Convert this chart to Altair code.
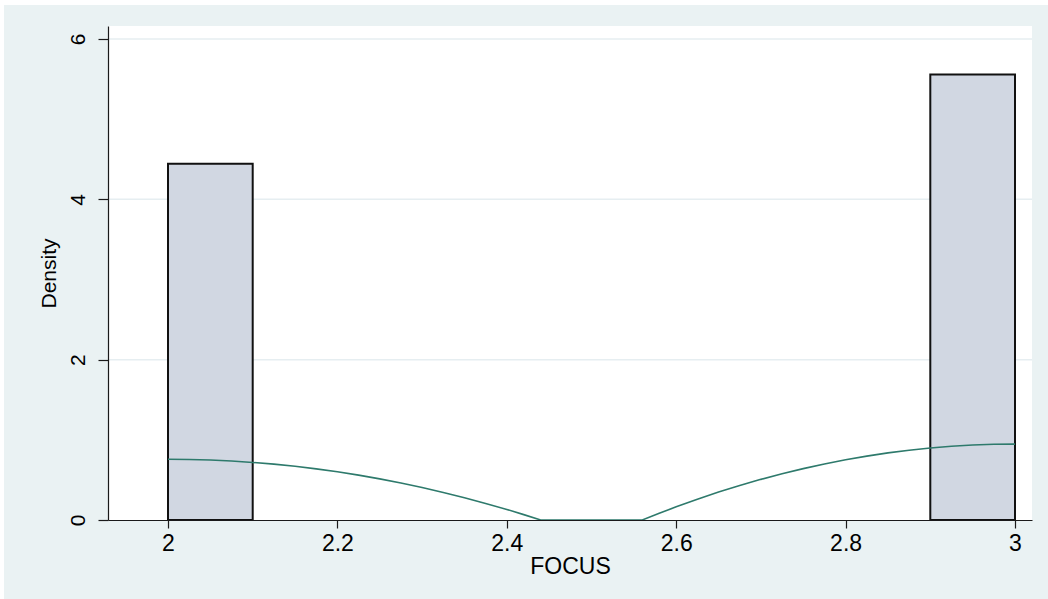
import altair as alt
import pandas as pd

# Histogram of FOCUS (density scale), bins of width 0.1 starting at 2
bin_start = [2.0, 2.9]
bin_end = [2.1, 3.0]
bin_density = [4.444, 5.556]

# Kernel density curve over the data range
kd_x = [2.000, 2.025, 2.050, 2.075, 2.100, 2.125, 2.150, 2.175, 2.200, 2.225,
        2.250, 2.275, 2.300, 2.325, 2.350, 2.375, 2.400, 2.420, 2.440, 2.500,
        2.560, 2.580, 2.600, 2.625, 2.650, 2.675, 2.700, 2.725, 2.750, 2.775,
        2.800, 2.825, 2.850, 2.875, 2.900, 2.925, 2.950, 2.975, 3.000]
kd_y = [0.758, 0.755, 0.748, 0.736, 0.718, 0.697, 0.670, 0.638, 0.601, 0.560,
        0.513, 0.462, 0.405, 0.344, 0.278, 0.207, 0.132, 0.067, 0.000, 0.000,
        0.000, 0.084, 0.164, 0.259, 0.348, 0.430, 0.507, 0.577, 0.641, 0.699,
        0.751, 0.797, 0.837, 0.871, 0.898, 0.920, 0.935, 0.944, 0.947]

x_ticks = [2.0, 2.2, 2.4, 2.6, 2.8, 3.0]
y_ticks = [0, 2, 4, 6]
grid_y = [2, 4, 6]

FONT = "Liberation Sans"
W, H = 924, 494
PAD = {"left": 108, "top": 26, "right": 16, "bottom": 79}

bars = pd.DataFrame({"start": bin_start, "end": bin_end, "density": bin_density})
kd = pd.DataFrame({"focus": kd_x, "density": kd_y})
grid = pd.DataFrame({"g": grid_y})
one = pd.DataFrame({"a": [0]})

x_scale = alt.Scale(domain=[1.92916, 3.02007], nice=False, zero=False)
y_scale = alt.Scale(domain=[0, 6.162], nice=False)

x_axis = alt.Axis(values=x_ticks, format=".1~f", title="FOCUS", grid=False,
                  tickSize=8, labelPadding=4, titlePadding=0, zindex=1,
                  labelFontSize=23, titleFontSize=23)
y_axis = alt.Axis(values=y_ticks, format="d", title="Density", grid=False,
                  tickSize=10, labelAngle=270, labelAlign="center",
                  labelBaseline="bottom", labelPadding=10, titlePadding=8,
                  zindex=1, labelFontSize=21, titleFontSize=21)

# graph region (light bluish gray) and white plot region
outer = alt.Chart(one).mark_rect(fill="#EAF2F3").encode(
    x=alt.value(-104), x2=alt.value(W + PAD["right"]),
    y=alt.value(-21), y2=alt.value(H + PAD["bottom"]))
inner = alt.Chart(one).mark_rect(fill="white").encode(
    x=alt.value(0), x2=alt.value(W), y=alt.value(0), y2=alt.value(H))

gridlines = alt.Chart(grid).mark_rule(color="#E6EEF1", strokeWidth=1.5).encode(
    x=alt.value(0), x2=alt.value(W),
    y=alt.Y("g:Q", scale=y_scale, axis=y_axis))

hist = alt.Chart(bars).mark_rect(fill="#D1D7E2", stroke="#111111", strokeWidth=2).encode(
    x=alt.X("start:Q", scale=x_scale, axis=x_axis),
    x2="end:Q",
    y=alt.Y("density:Q", scale=y_scale, axis=y_axis),
    y2=alt.datum(0))

curve = alt.Chart(kd).mark_line(color="#2E7A6C", strokeWidth=1.6).encode(
    x=alt.X("focus:Q", scale=x_scale, axis=x_axis),
    y=alt.Y("density:Q", scale=y_scale, axis=y_axis))

chart = alt.layer(outer, inner, gridlines, hist, curve).properties(
    width=W, height=H,
    padding=PAD,
    autosize=alt.AutoSizeParams(type="none"),
    background="white",
).configure_view(stroke=None).configure_axis(
    labelFont=FONT, titleFont=FONT,
    titleFontWeight="normal", labelColor="#000000", titleColor="#000000",
    domainColor="#1a1a1a", tickColor="#1a1a1a", domainWidth=1.2, tickWidth=1.2,
)

chart.save("out.html", embed_options={"renderer": "svg", "actions": False})
